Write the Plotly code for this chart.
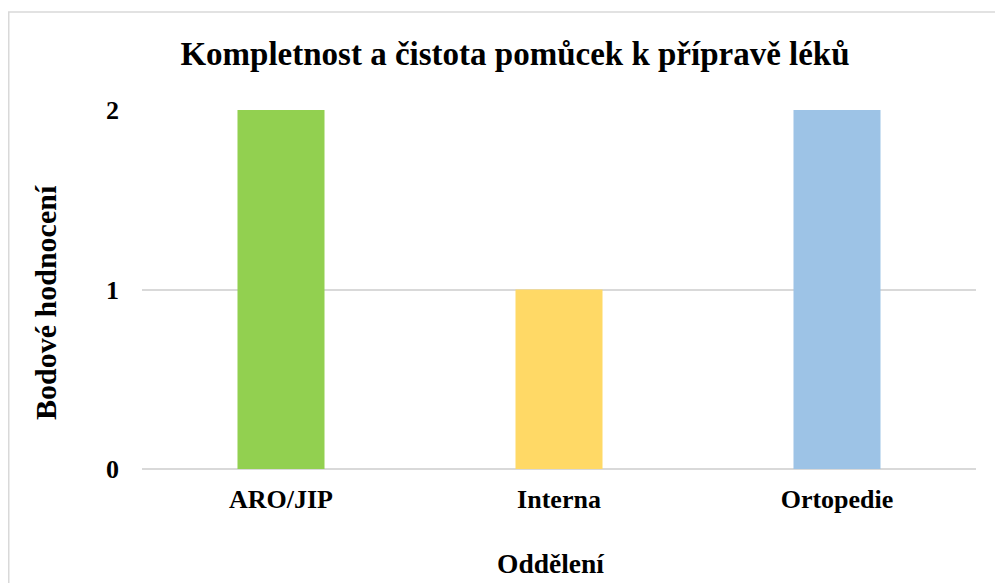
import plotly.graph_objects as go

# Data
oddeleni = ["ARO/JIP", "Interna", "Ortopedie"]
body = [2, 1, 2]
barvy = ["#92D050", "#FFD966", "#9DC3E6"]

font_serif = "Liberation Serif, Times New Roman, serif"

# plot area in figure pixels (page has 8px body margin)
L, R, T, B = 134, 35, 102, 122
W, H = 1003, 583
pw = W - L - R
ph = H - T - B

fig = go.Figure()

fig.add_trace(go.Bar(
    x=oddeleni,
    y=body,
    marker=dict(color=barvy, line=dict(width=0)),
    showlegend=False,
    hoverinfo="x+y"
))

fig.update_layout(
    width=W,
    height=H,
    title=dict(
        text="<b>Kompletnost a čistota pomůcek k přípravě léků</b>",
        x=507 / W, xanchor="center",
        y=1 - 45 / H, yanchor="middle",
        font=dict(family=font_serif, size=33, color="black")
    ),
    font=dict(family=font_serif, size=26, color="black"),
    plot_bgcolor="white",
    paper_bgcolor="white",
    bargap=0.687,
    margin=dict(l=L, r=R, t=T, b=B),
    xaxis=dict(
        tickfont=dict(size=26),
        tickprefix="<b>", ticksuffix="</b>",
        showline=False,
        showgrid=False,
        ticklabelstandoff=12,
    ),
    yaxis=dict(
        range=[0, 2],
        dtick=1,
        tickfont=dict(size=26),
        tickprefix="<b>", ticksuffix="</b>",
        showgrid=True,
        gridcolor="#D9D9D9",
        gridwidth=1.5,
        zeroline=True,
        zerolinecolor="#D9D9D9",
        zerolinewidth=1.5,
        showline=False,
        ticklabelstandoff=22,
    ),
    annotations=[
        dict(text="<b>Oddělení</b>", xref="paper", yref="paper",
             x=(542 - L) / pw, y=(ph + T - 555) / ph,
             xanchor="center", yanchor="middle", showarrow=False,
             font=dict(family=font_serif, size=27.5, color="black")),
        dict(text="<b>Bodové hodnocení</b>", xref="paper", yref="paper",
             x=(37 - L) / pw, y=(ph + T - 295) / ph, textangle=-90,
             xanchor="center", yanchor="middle", showarrow=False,
             font=dict(family=font_serif, size=30, color="black")),
    ],
    shapes=[dict(
        type="rect", xref="paper", yref="paper",
        x0=(0.75 - L) / pw, x1=1.2, y0=-0.6, y1=(ph + T - 4) / ph,
        line=dict(color="#D9D9D9", width=1.5),
        fillcolor="rgba(0,0,0,0)", layer="below"
    )]
)

fig.write_html("out.html")
